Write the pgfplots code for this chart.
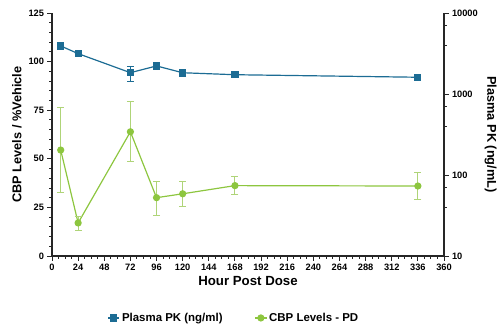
\documentclass[border=0pt]{standalone}
\usepackage{fontspec}
\setmainfont{Liberation Sans}
\usepackage{pgfplots}
\pgfplotsset{compat=1.18}
\definecolor{pkblue}{RGB}{28,108,148}
\definecolor{pdgreen}{RGB}{141,198,63}
\definecolor{pdgreenlt}{RGB}{175,212,120}
\pgfplotstableread{
x y ep em
8 54.5 22 21.7
24 17 3.5 4
72 63.9 15.5 15.5
96 30 8.6 9
120 32 6.6 6.3
168 36.2 4.6 4.5
336 36 7 7
}\pdtable
\pgfplotstableread{
x y ep em
8 3920 0 0
24 3150 0 0
72 1833 385 414
96 2220 0 0
120 1830 170 170
168 1730 0 0
336 1610 0 0
}\pktable
\begin{document}
\begin{tikzpicture}
\useasboundingbox (0,0) rectangle (501bp,334bp);
\pgfplotsset{
  common/.style={
    scale only axis, width=392bp, height=243bp,
    at={(52bp,78bp)}, anchor=south west,
    xmin=0, xmax=360,
    axis line style={line width=1.1pt, black!85},
    tick style={line width=0.9pt, black!85},
    major tick length=4.5bp, minor tick length=2.5bp,
    tick align=outside,
    tick label style={font=\fontsize{9.3}{10}\selectfont\bfseries},
    /pgf/number format/assume math mode=true,
    label style={font=\fontsize{12.8}{14}\selectfont\bfseries},
    clip=false,
  }
}
\begin{axis}[common,
  axis x line*=bottom, axis y line*=left,
  xtick={0,24,...,360}, minor x tick num=3,
  ymin=0, ymax=125, ytick={0,25,...,125}, minor y tick num=4,
  xlabel={Hour Post Dose}, ylabel={CBP Levels / \%Vehicle},
  xlabel style={font=\fontsize{13.3}{15}\selectfont\bfseries, yshift=1bp},
]
\addplot[pdgreen, line width=1.2pt, mark=*, mark size=3pt,
  error bars/.cd, y dir=both, y explicit,
  error bar style={pdgreenlt, line width=0.9pt},
  error mark options={rotate=90, mark size=3.5pt, pdgreenlt, line width=0.9pt}]
  table[x=x, y=y, y error plus=ep, y error minus=em] {\pdtable};
\end{axis}
\begin{axis}[common,
  axis x line=none, axis y line*=right,
  ymode=log, ymin=10, ymax=10000,
  ytick={10,100,1000,10000}, yticklabels={10,100,1000,10000},
  minor ytick={40,70,400,700,4000,7000},
  ylabel={Plasma PK (ng/mL)}, ylabel style={rotate=180},
  legend columns=2,
  legend style={at={(0.464,-0.255)}, anchor=center, draw=none,
    font=\fontsize{11.5}{13}\selectfont\bfseries,
    /tikz/every even column/.append style={column sep=30bp}},
  legend cell align=left,
  legend image code/.code={\draw[#1, mark repeat=2, mark phase=2]
    plot coordinates {(0cm,0cm) (0.2cm,0cm) (0.4cm,0cm)};},
]
\addplot[pkblue, line width=1.2pt, mark=square*, mark size=3pt,
  error bars/.cd, y dir=both, y explicit,
  error bar style={pkblue, line width=0.9pt},
  error mark options={rotate=90, mark size=3.5pt, pkblue, line width=0.9pt}]
  table[x=x, y=y, y error plus=ep, y error minus=em] {\pktable};
\addlegendentry{Plasma PK (ng/ml)}
\addlegendimage{pdgreen, line width=1.2pt, mark=*, mark size=3pt}
\addlegendentry{CBP Levels - PD}
\end{axis}
\end{tikzpicture}
\end{document}
